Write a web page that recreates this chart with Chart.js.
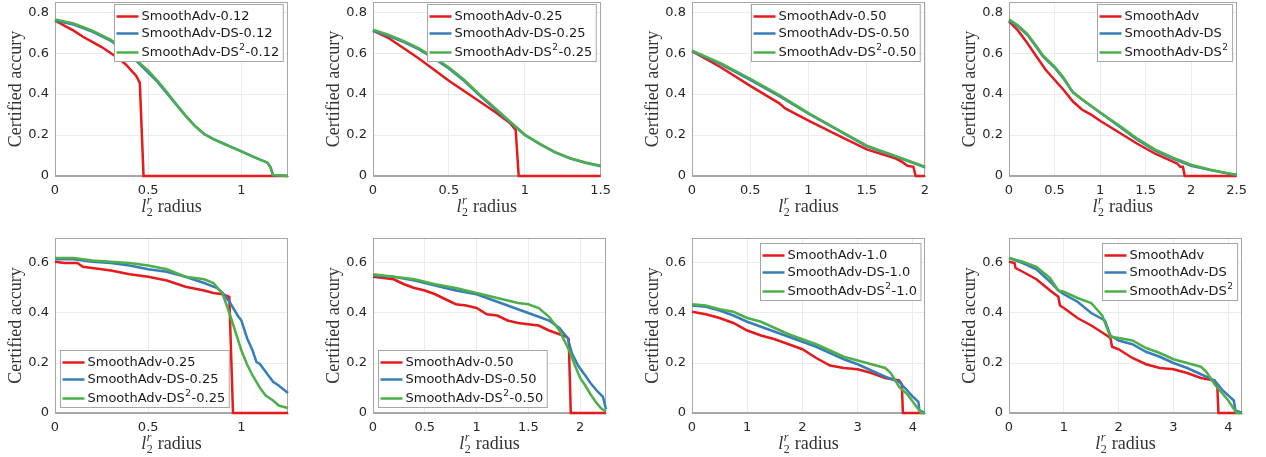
<!DOCTYPE html>
<html><head><meta charset="utf-8">
<script src="https://cdn.jsdelivr.net/npm/chart.js@4/dist/chart.umd.min.js"></script>
<style>
html,body{margin:0;padding:0;background:#fff;}
body{width:1266px;height:457px;overflow:hidden;position:relative;}
.pn{position:absolute;}
</style></head><body>
<script>
// ---------- data ----------
const yTitle = 'Certified accury';
const colorsRGB = ['#e41a1c', '#377eb8', '#4daf4a'];

// Panel 1: sigma 0.12
const p1_labels = ['SmoothAdv-0.12', 'SmoothAdv-DS-0.12', 'SmoothAdv-DS²-0.12'];
const p1_sa_x = [0, 0.05, 0.1, 0.15, 0.2, 0.25, 0.3, 0.34, 0.38, 0.41, 0.435, 0.455, 0.475, 1.25];
const p1_sa_y = [0.76, 0.735, 0.71, 0.68, 0.655, 0.63, 0.6, 0.575, 0.545, 0.515, 0.49, 0.455, 0, 0];
const p1_ds_x = [0, 0.1, 0.2, 0.3, 0.4, 0.45, 0.5, 0.55, 0.6, 0.65, 0.7, 0.75, 0.8, 0.85, 0.9, 0.95, 1.0, 1.05, 1.1, 1.14, 1.155, 1.17, 1.25];
const p1_ds_y = [0.76, 0.74, 0.705, 0.66, 0.595, 0.55, 0.505, 0.46, 0.405, 0.35, 0.295, 0.245, 0.205, 0.18, 0.16, 0.14, 0.12, 0.1, 0.08, 0.065, 0.045, 0.005, 0];
const p1_ds2_x = [0, 0.1, 0.2, 0.3, 0.4, 0.45, 0.5, 0.55, 0.6, 0.65, 0.7, 0.75, 0.8, 0.85, 0.9, 0.95, 1.0, 1.05, 1.1, 1.14, 1.155, 1.17, 1.25];
const p1_ds2_y = [0.765, 0.745, 0.71, 0.665, 0.6, 0.555, 0.515, 0.465, 0.41, 0.35, 0.295, 0.245, 0.205, 0.18, 0.16, 0.14, 0.12, 0.1, 0.08, 0.065, 0.045, 0.005, 0];

// Panel 2: sigma 0.25
const p2_labels = ['SmoothAdv-0.25', 'SmoothAdv-DS-0.25', 'SmoothAdv-DS²-0.25'];
const p2_sa_x = [0, 0.1, 0.2, 0.3, 0.4, 0.5, 0.6, 0.7, 0.8, 0.9, 0.94, 0.96, 1.5];
const p2_sa_y = [0.71, 0.675, 0.625, 0.575, 0.52, 0.465, 0.415, 0.365, 0.315, 0.26, 0.225, 0, 0];
const p2_ds_x = [0, 0.1, 0.2, 0.3, 0.4, 0.5, 0.6, 0.7, 0.8, 0.9, 1.0, 1.1, 1.2, 1.3, 1.4, 1.5];
const p2_ds_y = [0.71, 0.685, 0.655, 0.62, 0.575, 0.525, 0.465, 0.395, 0.33, 0.265, 0.2, 0.155, 0.115, 0.085, 0.065, 0.048];
const p2_ds2_x = [0, 0.1, 0.2, 0.3, 0.4, 0.5, 0.6, 0.7, 0.8, 0.9, 1.0, 1.1, 1.2, 1.3, 1.4, 1.5];
const p2_ds2_y = [0.715, 0.69, 0.66, 0.625, 0.58, 0.53, 0.47, 0.4, 0.335, 0.268, 0.203, 0.157, 0.117, 0.087, 0.066, 0.05];

// Panel 3: sigma 0.50
const p3_labels = ['SmoothAdv-0.50', 'SmoothAdv-DS-0.50', 'SmoothAdv-DS²-0.50'];
const p3_sa_x = [0, 0.25, 0.5, 0.75, 0.8, 1.0, 1.25, 1.5, 1.75, 1.8, 1.85, 1.9, 1.92, 2];
const p3_sa_y = [0.61, 0.53, 0.44, 0.355, 0.33, 0.27, 0.2, 0.13, 0.085, 0.07, 0.05, 0.045, 0, 0];
const p3_ds_x = [0, 0.25, 0.5, 0.75, 1.0, 1.25, 1.5, 1.75, 2];
const p3_ds_y = [0.61, 0.545, 0.47, 0.39, 0.305, 0.225, 0.145, 0.095, 0.042];
const p3_ds2_x = [0, 0.25, 0.5, 0.75, 1.0, 1.25, 1.5, 1.75, 2];
const p3_ds2_y = [0.612, 0.55, 0.475, 0.395, 0.307, 0.227, 0.148, 0.097, 0.045];

// Panel 4: combined
const p4_labels = ['SmoothAdv', 'SmoothAdv-DS', 'SmoothAdv-DS²'];
const p4_sa_x = [0, 0.1, 0.2, 0.3, 0.4, 0.5, 0.6, 0.7, 0.8, 0.9, 1.0, 1.2, 1.4, 1.6, 1.8, 1.85, 1.88, 1.91, 1.93, 2.5];
const p4_sa_y = [0.755, 0.71, 0.65, 0.585, 0.52, 0.47, 0.42, 0.365, 0.325, 0.3, 0.27, 0.215, 0.16, 0.11, 0.07, 0.06, 0.045, 0.045, 0, 0];
const p4_ds_x = [0, 0.1, 0.2, 0.3, 0.37, 0.5, 0.6, 0.7, 0.8, 1.0, 1.2, 1.4, 1.6, 1.8, 2.0, 2.2, 2.4, 2.5];
const p4_ds_y = [0.76, 0.73, 0.69, 0.63, 0.585, 0.53, 0.475, 0.41, 0.375, 0.31, 0.245, 0.18, 0.125, 0.085, 0.05, 0.03, 0.012, 0.005];
const p4_ds2_x = [0, 0.1, 0.2, 0.3, 0.37, 0.5, 0.6, 0.7, 0.8, 1.0, 1.2, 1.4, 1.6, 1.8, 2.0, 2.2, 2.4, 2.5];
const p4_ds2_y = [0.765, 0.735, 0.695, 0.635, 0.59, 0.535, 0.48, 0.41, 0.375, 0.31, 0.25, 0.185, 0.13, 0.09, 0.055, 0.032, 0.014, 0.006];

// Panel 5: sigma 0.25 (bottom)
const p5_labels = ['SmoothAdv-0.25', 'SmoothAdv-DS-0.25', 'SmoothAdv-DS²-0.25'];
const p5_sa_x = [0, 0.05, 0.12, 0.15, 0.2, 0.3, 0.4, 0.5, 0.6, 0.7, 0.8, 0.85, 0.9, 0.935, 0.955, 1.25];
const p5_sa_y = [0.605, 0.6, 0.6, 0.585, 0.58, 0.57, 0.555, 0.545, 0.53, 0.505, 0.49, 0.48, 0.475, 0.465, 0, 0];
const p5_ds_x = [0, 0.1, 0.2, 0.3, 0.4, 0.5, 0.6, 0.7, 0.8, 0.87, 0.9, 0.94, 0.98, 1.0, 1.03, 1.06, 1.08, 1.1, 1.13, 1.17, 1.2, 1.25];
const p5_ds_y = [0.615, 0.615, 0.605, 0.6, 0.59, 0.575, 0.565, 0.545, 0.52, 0.5, 0.48, 0.44, 0.39, 0.37, 0.3, 0.25, 0.205, 0.195, 0.165, 0.125, 0.11, 0.08];
const p5_ds2_x = [0, 0.1, 0.2, 0.3, 0.4, 0.5, 0.6, 0.7, 0.8, 0.85, 0.9, 0.94, 0.97, 1.0, 1.03, 1.06, 1.1, 1.13, 1.17, 1.2, 1.25];
const p5_ds2_y = [0.62, 0.62, 0.61, 0.605, 0.6, 0.59, 0.575, 0.545, 0.535, 0.52, 0.475, 0.39, 0.32, 0.25, 0.195, 0.15, 0.1, 0.07, 0.05, 0.03, 0.02];

// Panel 6: sigma 0.50 (bottom)
const p6_labels = ['SmoothAdv-0.50', 'SmoothAdv-DS-0.50', 'SmoothAdv-DS²-0.50'];
const p6_sa_x = [0, 0.2, 0.3, 0.4, 0.5, 0.6, 0.7, 0.8, 0.9, 1.0, 1.1, 1.2, 1.3, 1.4, 1.5, 1.6, 1.7, 1.8, 1.87, 1.89, 1.91, 2.25];
const p6_sa_y = [0.545, 0.535, 0.515, 0.5, 0.49, 0.475, 0.455, 0.435, 0.43, 0.42, 0.395, 0.39, 0.37, 0.36, 0.355, 0.35, 0.33, 0.315, 0.305, 0.295, 0, 0];
const p6_ds_x = [0, 0.2, 0.4, 0.6, 0.8, 1.0, 1.2, 1.4, 1.5, 1.6, 1.7, 1.8, 1.88, 1.92, 1.98, 2.05, 2.1, 2.17, 2.22, 2.25];
const p6_ds_y = [0.55, 0.545, 0.53, 0.51, 0.49, 0.475, 0.445, 0.415, 0.4, 0.385, 0.37, 0.34, 0.3, 0.24, 0.19, 0.15, 0.12, 0.085, 0.065, 0.015];
const p6_ds2_x = [0, 0.2, 0.4, 0.6, 0.8, 1.0, 1.2, 1.4, 1.5, 1.6, 1.7, 1.8, 1.9, 1.95, 2.0, 2.05, 2.1, 2.15, 2.2, 2.25];
const p6_ds2_y = [0.555, 0.545, 0.535, 0.515, 0.5, 0.48, 0.46, 0.44, 0.435, 0.42, 0.385, 0.33, 0.245, 0.19, 0.14, 0.11, 0.075, 0.045, 0.02, 0.005];

// Panel 7: sigma 1.0 (bottom)
const p7_labels = ['SmoothAdv-1.0', 'SmoothAdv-DS-1.0', 'SmoothAdv-DS²-1.0'];
const p7_sa_x = [0, 0.25, 0.5, 0.75, 1.0, 1.25, 1.5, 1.75, 2.0, 2.25, 2.5, 2.75, 3.0, 3.25, 3.5, 3.75, 3.8, 3.82, 4.22];
const p7_sa_y = [0.405, 0.395, 0.38, 0.36, 0.33, 0.31, 0.295, 0.275, 0.255, 0.22, 0.19, 0.18, 0.175, 0.16, 0.14, 0.13, 0.115, 0, 0];
const p7_ds_x = [0, 0.25, 0.5, 0.75, 1.0, 1.25, 1.5, 1.75, 2.0, 2.25, 2.5, 2.75, 3.0, 3.25, 3.5, 3.75, 3.9, 4.0, 4.1, 4.12, 4.22];
const p7_ds_y = [0.43, 0.425, 0.41, 0.39, 0.365, 0.345, 0.325, 0.305, 0.285, 0.265, 0.24, 0.215, 0.195, 0.17, 0.145, 0.125, 0.09, 0.065, 0.045, 0.01, 0];
const p7_ds2_x = [0, 0.25, 0.5, 0.75, 1.0, 1.25, 1.5, 1.75, 2.0, 2.25, 2.5, 2.75, 3.0, 3.25, 3.5, 3.6, 3.75, 3.9, 4.0, 4.1, 4.15, 4.22];
const p7_ds2_y = [0.435, 0.43, 0.415, 0.405, 0.38, 0.365, 0.34, 0.315, 0.295, 0.275, 0.25, 0.225, 0.21, 0.195, 0.18, 0.16, 0.105, 0.075, 0.045, 0.015, 0, 0];

// Panel 8: combined (bottom)
const p8_labels = ['SmoothAdv', 'SmoothAdv-DS', 'SmoothAdv-DS²'];
const p8_sa_x = [0, 0.1, 0.12, 0.25, 0.5, 0.75, 0.9, 0.93, 1.0, 1.25, 1.5, 1.75, 1.85, 1.88, 2.0, 2.25, 2.5, 2.75, 3.0, 3.25, 3.5, 3.75, 3.8, 3.82, 4.25];
const p8_sa_y = [0.605, 0.6, 0.58, 0.565, 0.535, 0.49, 0.465, 0.43, 0.42, 0.38, 0.35, 0.315, 0.3, 0.265, 0.255, 0.22, 0.195, 0.18, 0.175, 0.16, 0.14, 0.13, 0.105, 0, 0];
const p8_ds_x = [0, 0.25, 0.5, 0.75, 0.9, 1.0, 1.25, 1.5, 1.75, 1.85, 2.0, 2.25, 2.5, 2.75, 3.0, 3.25, 3.5, 3.75, 3.9, 4.1, 4.13, 4.25];
const p8_ds_y = [0.62, 0.6, 0.575, 0.525, 0.49, 0.475, 0.445, 0.4, 0.37, 0.31, 0.29, 0.275, 0.245, 0.225, 0.2, 0.18, 0.155, 0.13, 0.09, 0.05, 0.01, 0];
const p8_ds2_x = [0, 0.25, 0.5, 0.75, 0.9, 1.0, 1.25, 1.5, 1.7, 1.85, 2.0, 2.25, 2.5, 2.75, 3.0, 3.25, 3.5, 3.6, 3.75, 4.0, 4.15, 4.25];
const p8_ds2_y = [0.62, 0.605, 0.585, 0.54, 0.49, 0.485, 0.46, 0.44, 0.39, 0.305, 0.3, 0.29, 0.26, 0.24, 0.215, 0.2, 0.185, 0.165, 0.115, 0.05, 0, 0];

// ---------- panel setup ----------
const colLeft = [0, 318, 637, 954];
const panels = [
  {col:0,row:0,xmax:1.25,xstep:0.5,ymax:0.85,leg:'tr',labels:p1_labels,s:[[p1_sa_x,p1_sa_y],[p1_ds_x,p1_ds_y],[p1_ds2_x,p1_ds2_y]]},
  {col:1,row:0,xmax:1.5,xstep:0.5,ymax:0.85,leg:'tr',labels:p2_labels,s:[[p2_sa_x,p2_sa_y],[p2_ds_x,p2_ds_y],[p2_ds2_x,p2_ds2_y]]},
  {col:2,row:0,xmax:2,xstep:0.5,ymax:0.85,leg:'tr',labels:p3_labels,s:[[p3_sa_x,p3_sa_y],[p3_ds_x,p3_ds_y],[p3_ds2_x,p3_ds2_y]]},
  {col:3,row:0,xmax:2.5,xstep:0.5,ymax:0.85,leg:'tr',labels:p4_labels,s:[[p4_sa_x,p4_sa_y],[p4_ds_x,p4_ds_y],[p4_ds2_x,p4_ds2_y]]},
  {col:0,row:1,xmax:1.25,xstep:0.5,ymax:0.7,leg:'bl',labels:p5_labels,s:[[p5_sa_x,p5_sa_y],[p5_ds_x,p5_ds_y],[p5_ds2_x,p5_ds2_y]]},
  {col:1,row:1,xmax:2.25,xstep:0.5,ymax:0.7,leg:'bl',labels:p6_labels,s:[[p6_sa_x,p6_sa_y],[p6_ds_x,p6_ds_y],[p6_ds2_x,p6_ds2_y]]},
  {col:2,row:1,xmax:4.22,xstep:1,ymax:0.7,leg:'tr',labels:p7_labels,s:[[p7_sa_x,p7_sa_y],[p7_ds_x,p7_ds_y],[p7_ds2_x,p7_ds2_y]]},
  {col:3,row:1,xmax:4.25,xstep:1,ymax:0.7,leg:'tr',labels:p8_labels,s:[[p8_sa_x,p8_sa_y],[p8_ds_x,p8_ds_y],[p8_ds2_x,p8_ds2_y]]},
];

const SANS = '"DejaVu Sans", sans-serif';
const SERIF = '"Liberation Serif", serif';
const fmt = v => String(Math.round(v * 100) / 100);
const PADTOP = 16;

function drawSup(ctx, s, x, y, measureOnly) {
  const parts = s.split('²');
  let w = 0;
  parts.forEach((p, i) => {
    ctx.font = '13px ' + SANS;
    if (!measureOnly) ctx.fillText(p, x + w, y);
    w += ctx.measureText(p).width;
    if (i < parts.length - 1) {
      ctx.font = '9px ' + SANS;
      if (!measureOnly) ctx.fillText('2', x + w + 0.5, y - 5);
      w += ctx.measureText('2').width + 1;
    }
  });
  return w;
}

const decor = {
  id: 'decor',
  beforeDatasetsDraw(chart) {
    const {ctx, chartArea: a} = chart;
    ctx.save();
    ctx.strokeStyle = '#a6a6a6';
    ctx.lineWidth = 1;
    ctx.strokeRect(Math.round(a.left) + 0.5, Math.round(a.top) + 0.5, Math.round(a.right - a.left) - 1, Math.round(a.bottom - a.top) - 1);
    ctx.restore();
  },
  afterDraw(chart, args, opts) {
    const {ctx, chartArea: a} = chart;
    ctx.save();
    // x-axis title: l_2^r radius
    const cx = (a.left + a.right) / 2, by = a.bottom + 36;
    ctx.fillStyle = '#333';
    ctx.textBaseline = 'alphabetic';
    ctx.textAlign = 'left';
    ctx.font = 'italic 18px ' + SERIF; const wl = ctx.measureText('l').width;
    ctx.font = '12px ' + SERIF; const w2 = ctx.measureText('2').width;
    ctx.font = '18px ' + SERIF; const wr = ctx.measureText(' radius').width;
    const total = wl + w2 + 1 + wr;
    let x0 = cx - total / 2;
    ctx.font = 'italic 18px ' + SERIF; ctx.fillText('l', x0, by);
    ctx.font = '12px ' + SERIF; ctx.fillText('2', x0 + wl + 0.5, by + 4);
    ctx.font = 'italic 12px ' + SERIF; ctx.fillText('r', x0 + wl + 0.5, by - 8);
    ctx.font = '18px ' + SERIF; ctx.fillText(' radius', x0 + wl + w2 + 1, by);

    // legend box
    const labels = opts.labels, cols = opts.colors;
    ctx.textBaseline = 'middle';
    let maxW = 0;
    labels.forEach(l => { maxW = Math.max(maxW, drawSup(ctx, l, 0, 0, true)); });
    const bw = 2 + 22 + 3 + maxW + 4, bh = 57;
    let bx, byy;
    if (opts.pos === 'tr') { bx = a.right - 5 - bw; byy = a.top + opts.top; }
    else { bx = a.left + 5; byy = a.bottom - 6 - bh; }
    bx = Math.round(bx) + 0.5; byy = Math.round(byy) + 0.5;
    ctx.fillStyle = '#fff';
    ctx.fillRect(bx, byy, bw, bh);
    ctx.strokeStyle = '#a6a6a6'; ctx.lineWidth = 1;
    ctx.strokeRect(bx, byy, bw, bh);
    const offs = [12, 29, 48];
    labels.forEach((l, i) => {
      const cy = byy + offs[i];
      ctx.strokeStyle = cols[i]; ctx.lineWidth = 2.5;
      ctx.beginPath(); ctx.moveTo(bx + 2, cy); ctx.lineTo(bx + 24, cy); ctx.stroke();
      ctx.fillStyle = '#1a1a1a';
      drawSup(ctx, l, bx + 27, cy + 0.5, false);
    });
    ctx.restore();
  }
};

panels.forEach(p => {
  const W = 300;
  // chart area: top row y 2..176, bottom row y 238..413 (absolute)
  const areaTop = p.row === 0 ? 2 : 238;
  const areaBottom = p.row === 0 ? 176 : 413;
  const xH = p.row === 0 ? 49 : 44;
  const divTop = areaTop - PADTOP;
  const H = areaBottom - divTop + xH;
  const div = document.createElement('div');
  div.className = 'pn';
  div.style.left = colLeft[p.col] + 'px';
  div.style.top = divTop + 'px';
  div.style.width = W + 'px'; div.style.height = H + 'px';
  const cv = document.createElement('canvas');
  cv.width = W; cv.height = H;
  cv.style.width = W + 'px'; cv.style.height = H + 'px';
  div.appendChild(cv);
  document.body.appendChild(div);
  new Chart(cv.getContext('2d'), {
    type: 'line',
    data: {
      datasets: p.s.map((s, i) => ({
        label: p.labels[i],
        data: s[0].map((x, j) => ({x: x, y: s[1][j]})),
        borderColor: colorsRGB[i],
        backgroundColor: colorsRGB[i],
        borderWidth: 2.5,
        pointRadius: 0,
        tension: 0,
        fill: false,
        order: 2 - i,
        clip: 5
      }))
    },
    options: {
      responsive: false,
      animation: false,
      events: [],
      layout: {padding: {top: PADTOP, right: 12, left: 0, bottom: 0}},
      plugins: {
        legend: {display: false},
        tooltip: {enabled: false},
        decor: {labels: p.labels, colors: colorsRGB, pos: p.leg, top: p.row === 0 ? 2 : 5}
      },
      scales: {
        x: {
          type: 'linear', min: 0, max: p.xmax,
          ticks: {stepSize: p.xstep, includeBounds: false, padding: 7, maxRotation: 0, autoSkip: false,
                  font: {family: SANS, size: 13}, color: '#262626', callback: v => fmt(v)},
          grid: {color: '#ebebeb', drawTicks: false},
          border: {color: '#a6a6a6'},
          afterFit: s => { s.height = xH; }
        },
        y: {
          min: 0, max: p.ymax,
          ticks: {stepSize: 0.2, includeBounds: false, padding: 6,
                  font: {family: SANS, size: 13}, color: '#262626', callback: v => fmt(v)},
          grid: {color: '#ebebeb', drawTicks: false},
          border: {color: '#a6a6a6'},
          title: {display: true, text: yTitle, font: {family: SERIF, size: 18}, color: '#333', padding: {top: 5, bottom: 0}},
          afterFit: s => { s.width = 55; }
        }
      }
    },
    plugins: [decor]
  });
});
</script>
</body></html>
